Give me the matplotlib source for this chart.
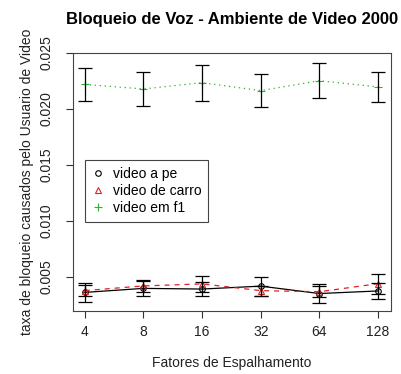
import matplotlib.pyplot as plt
import numpy as np

plt.rcParams['font.family'] = ['Liberation Sans', 'DejaVu Sans']

fatores = ['4', '8', '16', '32', '64', '128']

# taxa media de bloqueio e meia largura do intervalo de confianca
pe_media = [0.00362, 0.00398, 0.00392, 0.00418, 0.00352, 0.00375]
pe_ic = [0.00085, 0.00070, 0.00060, 0.00085, 0.00085, 0.00070]

carro_media = [0.00378, 0.00420, 0.00438, 0.00378, 0.00368, 0.00440]
carro_ic = [0.00050, 0.00050, 0.00075, 0.00045, 0.00050, 0.00090]

f1_media = [0.02219, 0.02179, 0.02235, 0.02164, 0.02253, 0.02197]
f1_ic = [0.00145, 0.00149, 0.00161, 0.00146, 0.00155, 0.00137]

x = np.arange(1, len(fatores) + 1)

fig = plt.figure(figsize=(4.02, 3.74), dpi=100)
ax = fig.add_axes([73/402, 1-311/374, 318/402, 258/374])

ax.plot(x, pe_media, color='black', lw=0.9, marker='o', mfc='none', ms=4, mew=0.8, label='video a pe')
ax.plot(x, carro_media, color='#E02020', lw=0.9, ls=(0, (4, 4)), marker='^', mfc='none', ms=4.5, mew=0.8,
        label='video de carro')
ax.plot(x, f1_media, color='#30B030', lw=0.9, ls=(0, (1, 3)), marker='+', ms=6, mew=0.8, label='video em f1')

for media, ic in [(pe_media, pe_ic), (carro_media, carro_ic), (f1_media, f1_ic)]:
    ax.errorbar(x, media, yerr=ic, fmt='none', ecolor='black', elinewidth=0.9, capsize=4.7, capthick=0.9)

ax.set_xlim(0.8, 6.22)
ax.set_ylim(0.00196, 0.025)
ax.set_xticks(x)
ax.set_xticklabels(fatores)
ax.set_yticks([0.005, 0.010, 0.015, 0.020, 0.025])
ax.set_yticklabels(['0.005', '0.010', '0.015', '0.020', '0.025'], rotation=90, va='center')
ax.tick_params(length=5, width=0.8, labelsize=10, color='#333333', labelcolor='#222222')
ax.tick_params(axis='x', pad=5)
ax.tick_params(axis='y', pad=9)
for s in ax.spines.values():
    s.set_linewidth(0.8)
    s.set_color('#444444')

ax.set_xlabel('Fatores de Espalhamento', fontsize=10, labelpad=12, color='#222222')
ax.set_ylabel('taxa de bloqueio causados pelo Usuario de Video', fontsize=10, labelpad=4, color='#222222')
ax.set_title('Bloqueio de Voz - Ambiente de Video 2000', fontsize=12, fontweight='bold', pad=21)

leg = ax.legend(loc='upper left', bbox_to_anchor=(0.038, 0.585), fontsize=10, fancybox=False,
                edgecolor='#444444', framealpha=1, handlelength=0.9, handletextpad=0.6,
                labelspacing=0.2, borderpad=0.5, borderaxespad=0)
leg.get_frame().set_linewidth(0.8)
for h in leg.get_lines():
    h.set_linestyle('none')

fig.savefig('out.png', dpi=100)
